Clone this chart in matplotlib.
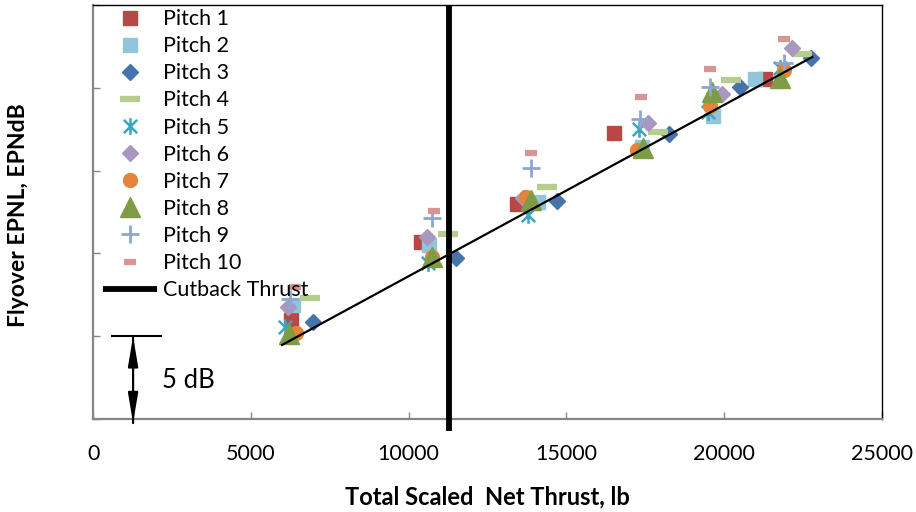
import matplotlib
matplotlib.use("Agg")
import matplotlib.pyplot as plt
from matplotlib.path import Path

plt.rcParams['font.family'] = ['Lato', 'DejaVu Sans']

# ---- data (relative EPNL, one tick = 5 dB) ----
labels = ["Pitch 1", "Pitch 2", "Pitch 3", "Pitch 4", "Pitch 5",
          "Pitch 6", "Pitch 7", "Pitch 8", "Pitch 9", "Pitch 10"]

p1_x = [6267, 10382, 13428, 16516, 21306]
p1_y = [5.98, 10.71, 12.98, 17.25, 20.53]
p2_x = [6330, 10655, 14114, 17394, 19666, 20989]
p2_y = [6.88, 10.50, 13.12, 16.44, 18.30, 20.53]
p3_x = [6955, 11502, 14697, 18271, 20513, 22757]
p3_y = [5.88, 9.74, 13.16, 17.19, 20.03, 21.82]
p4_x = [6870, 11258, 14380, 17922, 20218, 22471]
p4_y = [7.33, 11.17, 13.99, 17.31, 20.47, 22.02]
p5_x = [6076, 10624, 13796, 17318, 19508, 21783]
p5_y = [5.57, 9.40, 12.32, 17.49, 18.56, 21.18]
p6_x = [6182, 10572, 13637, 17604, 19932, 22153]
p6_y = [6.74, 10.97, 13.33, 17.86, 19.61, 22.42]
p7_x = [6425, 10731, 13723, 17236, 19540, 21888]
p7_y = [5.17, 9.80, 13.39, 16.24, 18.90, 21.08]
p8_x = [6213, 10750, 13872, 17426, 19615, 21783]
p8_y = [5.14, 9.80, 13.22, 16.38, 19.72, 20.57]
p9_x = [6230, 10731, 13872, 17340, 19540, 21888]
p9_y = [7.25, 12.16, 15.14, 18.10, 20.07, 21.48]
p10_x = [6395, 10814, 13872, 17362, 19540, 21888]
p10_y = [7.95, 12.56, 16.04, 19.46, 21.14, 22.95]

fit_x = [5980, 22800]
fit_y = [4.47, 21.86]
cutback_thrust = 11278

x_ticks = [0, 5000, 10000, 15000, 20000, 25000]
y_ticks = [0, 5, 10, 15, 20, 25]

# ---- styles ----
asterisk = Path([(0, -1), (0, 1), (-0.8, -0.8), (0.8, 0.8), (-0.8, 0.8), (0.8, -0.8)],
                [Path.MOVETO, Path.LINETO, Path.MOVETO, Path.LINETO, Path.MOVETO, Path.LINETO])

styles = [
    dict(marker='s', color='#B84845', ms=10.5, mec='#B84845'),
    dict(marker='s', color='#92C5D9', ms=10.5, mec='#92C5D9'),
    dict(marker='D', color='#4673AB', ms=8.5, mec='#4673AB'),
    dict(marker='_', color='#B5CD8D', ms=15, mew=4.5),
    dict(marker=asterisk, color='#3FA4BE', ms=12, mew=1.8, mfc='none'),
    dict(marker='D', color='#A898BF', ms=8.5, mec='#A898BF'),
    dict(marker='o', color='#E5843A', ms=10, mec='#E5843A'),
    dict(marker='^', color='#7E9C45', ms=14, mec='#7E9C45'),
    dict(marker='+', color='#8CA6D2', ms=13, mew=2),
    dict(marker='_', color='#D99593', ms=9, mew=4.5),
]
xs = [p1_x, p2_x, p3_x, p4_x, p5_x, p6_x, p7_x, p8_x, p9_x, p10_x]
ys = [p1_y, p2_y, p3_y, p4_y, p5_y, p6_y, p7_y, p8_y, p9_y, p10_y]

fig = plt.figure(figsize=(9.16, 5.12), dpi=100)
ax = fig.add_axes([0.102, 0.1816, 0.8605, 0.8086])

handles = []
for x, y, lab, st in zip(xs, ys, labels, styles):
    h, = ax.plot(x, y, linestyle='none', label=lab, zorder=3, **st)
    handles.append(h)

ax.plot(fit_x, fit_y, color='black', lw=1.6, zorder=4)
cb, = ax.plot([cutback_thrust, cutback_thrust], [-0.7, 25], color='black', lw=4.2,
              zorder=5, clip_on=False, solid_capstyle='butt', label='Cutback Thrust')
handles.append(cb)

ax.set_xlim(0, 25000)
ax.set_ylim(0, 25)
ax.set_xticks(x_ticks)
ax.set_xticklabels([str(t) for t in x_ticks], fontsize=15.5)
ax.set_yticks(y_ticks)
ax.set_yticklabels([])
ax.tick_params(axis='both', direction='in', length=5, width=1, color='#868686')
ax.tick_params(axis='x', pad=18)

for s in ['left', 'bottom']:
    ax.spines[s].set_color('#868686')
    ax.spines[s].set_linewidth(1.6)
for s in ['top', 'right']:
    ax.spines[s].set_color('black')
    ax.spines[s].set_linewidth(1.0)

ax.set_xlabel('Total Scaled  Net Thrust, lb', fontsize=17, fontweight='bold')
ax.xaxis.set_label_coords(0.5, -0.16)
ax.set_ylabel('Flyover EPNL, EPNdB', fontsize=16.5, fontweight='bold')
ax.yaxis.set_label_coords(-0.082, 0.493)

# 5 dB scale bracket
ax.plot([587, 2142], [5, 5], color='black', lw=1.5, clip_on=False, zorder=4)
ax.annotate('', xy=(1257, -0.25), xytext=(1257, 5),
            arrowprops=dict(arrowstyle='-|>,head_length=1.8,head_width=0.3',
                            color='black', lw=1.5, shrinkA=0, shrinkB=0),
            annotation_clip=False)
ax.annotate('', xy=(1257, 5), xytext=(1257, -0.25),
            arrowprops=dict(arrowstyle='-|>,head_length=1.8,head_width=0.3',
                            color='black', lw=1.5, shrinkA=0, shrinkB=0),
            annotation_clip=False)
ax.text(2160, 2.3, '5 dB', fontsize=18.5, va='center', ha='left')

leg = ax.legend(handles=handles, loc='upper left', bbox_to_anchor=(0.012, 0.99),
                frameon=False, fontsize=15.5, handlelength=2.5, handletextpad=0.3,
                labelspacing=0.33, borderpad=0, borderaxespad=0)

fig.savefig('out.png', dpi=100)
